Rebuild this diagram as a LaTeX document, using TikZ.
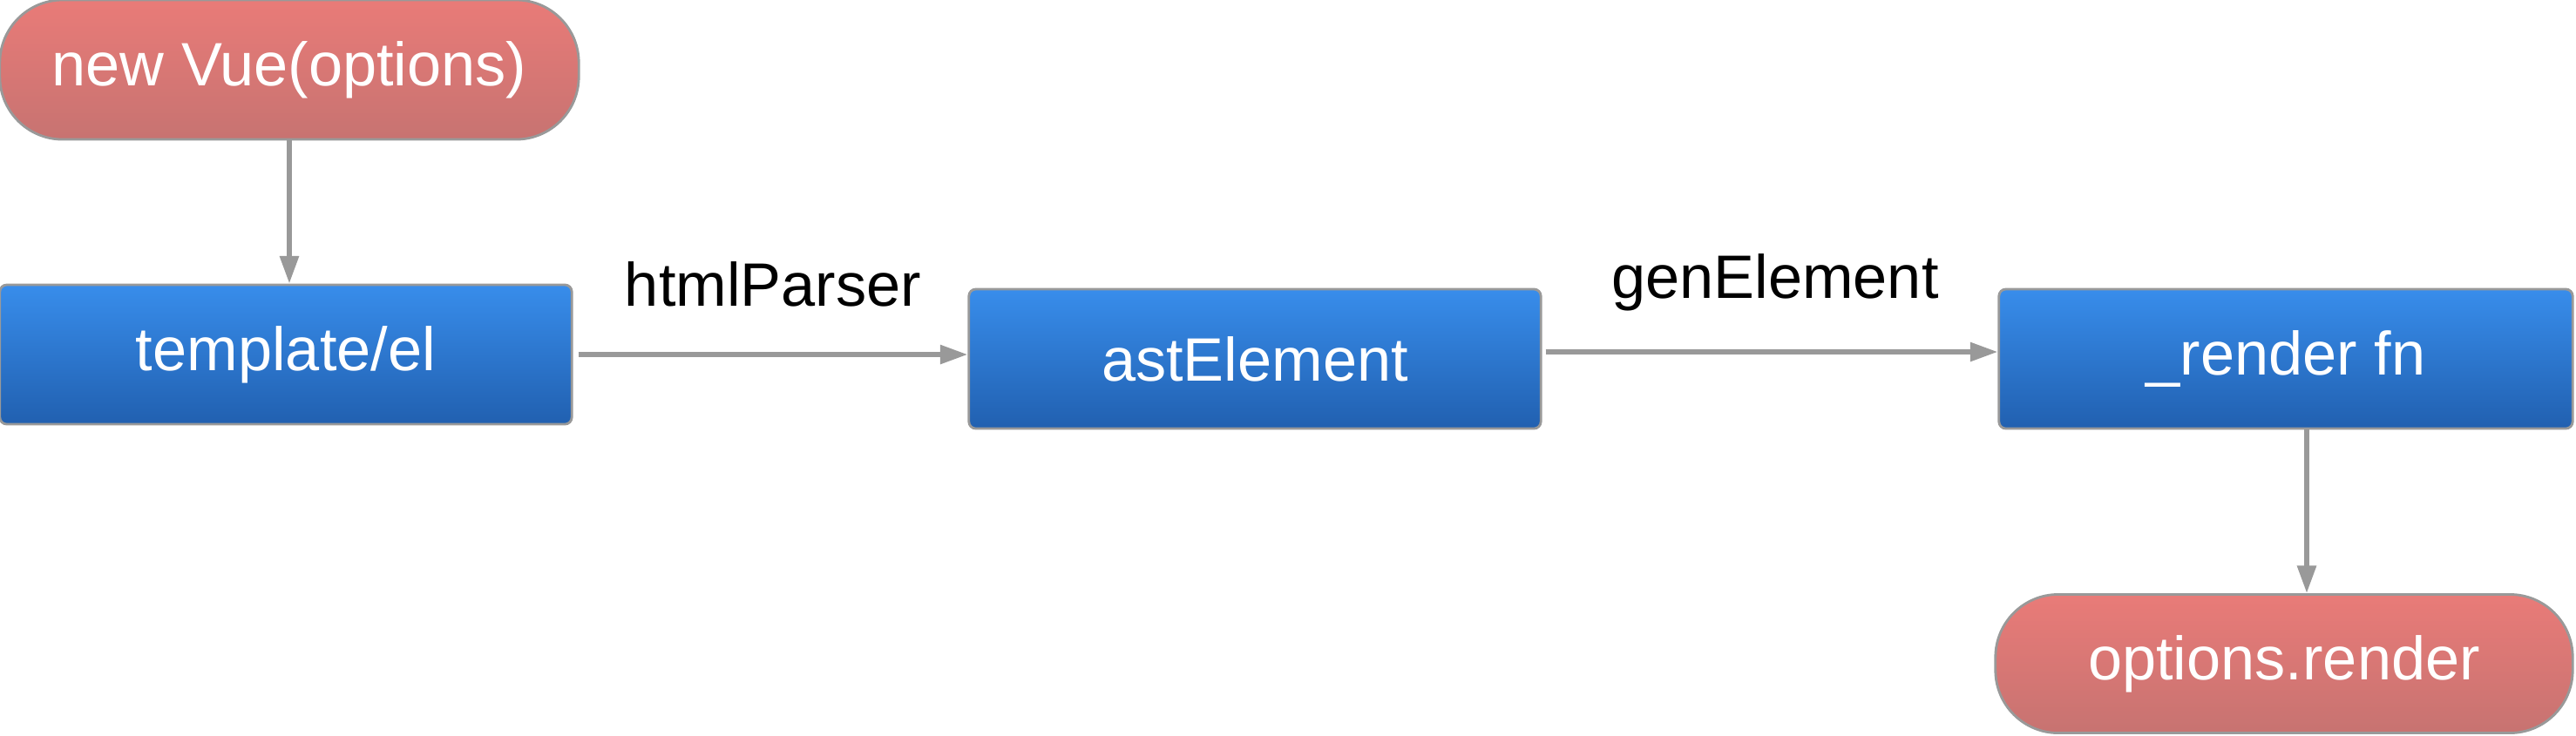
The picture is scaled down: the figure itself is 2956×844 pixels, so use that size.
\documentclass[tikz,border=0pt]{standalone}
\usepackage{fontspec}
\setmainfont{Liberation Sans}
\usetikzlibrary{arrows.meta}
\definecolor{bluetop}{HTML}{388DEB}
\definecolor{bluebot}{HTML}{2160B0}
\definecolor{redtop}{HTML}{E97B78}
\definecolor{redbot}{HTML}{C77371}
\definecolor{edgegray}{HTML}{999999}
\tikzset{
  bluebox/.style={draw=edgegray, line width=0.8pt, rounded corners=0.08cm,
    top color=bluetop, bottom color=bluebot, text=white,
    minimum width=6.56cm, minimum height=1.6cm, inner sep=0pt,
    font=\fontsize{20}{24}\selectfont},
  redbox/.style={draw=edgegray, line width=0.8pt, rounded corners=0.72cm,
    top color=redtop, bottom color=redbot, text=white,
    minimum width=6.64cm, minimum height=1.6cm, inner sep=0pt,
    font=\fontsize{20}{24}\selectfont},
  flow/.style={draw=edgegray, line width=1.6pt, -{Triangle[length=9pt,width=6pt]}},
  lbl/.style={text=black, font=\fontsize{20}{24}\selectfont, inner sep=0pt}
}
\begin{document}
\begin{tikzpicture}[x=0.01cm,y=-0.01cm]
\useasboundingbox (0,0) rectangle (2956,844);
\node[redbox] (newvue) at (332,80) {new Vue(options)};
\node[bluebox] (template) at (328,407) {template/el};
\node[bluebox] (ast) at (1440,412) {astElement};
\node[bluebox, minimum width=6.58cm] (render) at (2623,412) {\_render fn};
\node[redbox, minimum width=6.62cm, minimum height=1.59cm] (optrender) at (2621,762) {options.render};
\node[lbl] (lhtml) at (887,326) {htmlParser};
\node[lbl] (lgen) at (2037,324) {genElement};
\draw[flow] (newvue.south) -- (newvue.south |- template.north);
\draw[flow] ([xshift=0.06cm]template.east) -- (template.east -| ast.west);
\draw[flow] ([yshift=0.08cm,xshift=0.04cm]ast.east) -- ([yshift=0.08cm]render.west);
\draw[flow] ([xshift=0.24cm]render.south) -- ([xshift=0.24cm]render.south |- optrender.north);
\end{tikzpicture}
\end{document}
